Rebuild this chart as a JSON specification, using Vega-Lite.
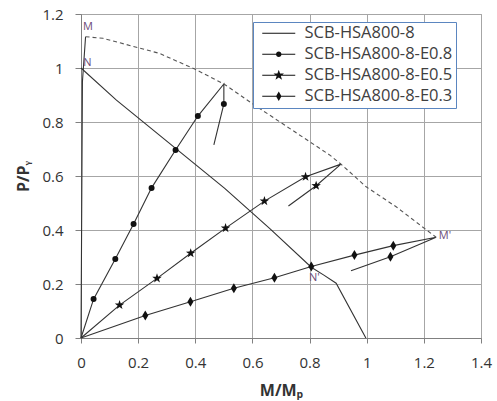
{
  "$schema": "https://vega.github.io/schema/vega-lite/v6.json",
  "width": 400,
  "height": 324,
  "autosize": "none",
  "padding": {"left": 81, "top": 14, "right": 16, "bottom": 63},
  "background": "white",
  "config": {"view": {"stroke": "#a0a0a0"}, "font": "Open Sans"},
  "datasets": {
    "curves": [
      {"series": "axial", "idx": 0, "x": 0, "y": 0, "marker": "none"},
      {"series": "axial", "idx": 1, "x": 0.005, "y": 0.95, "marker": "none"},
      {"series": "axial", "idx": 2, "x": 0.016, "y": 1.116, "marker": "none"},

      {"series": "envelope", "idx": 0, "x": 0.016, "y": 1.116, "marker": "none"},
      {"series": "envelope", "idx": 1, "x": 0.077, "y": 1.11, "marker": "none"},
      {"series": "envelope", "idx": 2, "x": 0.275, "y": 1.054, "marker": "none"},
      {"series": "envelope", "idx": 3, "x": 0.398, "y": 0.996, "marker": "none"},
      {"series": "envelope", "idx": 4, "x": 0.5, "y": 0.941, "marker": "none"},
      {"series": "envelope", "idx": 5, "x": 0.607, "y": 0.863, "marker": "none"},
      {"series": "envelope", "idx": 6, "x": 0.695, "y": 0.801, "marker": "none"},
      {"series": "envelope", "idx": 7, "x": 0.87, "y": 0.678, "marker": "none"},
      {"series": "envelope", "idx": 8, "x": 0.91, "y": 0.644, "marker": "none"},
      {"series": "envelope", "idx": 9, "x": 0.998, "y": 0.56, "marker": "none"},
      {"series": "envelope", "idx": 10, "x": 1.103, "y": 0.486, "marker": "none"},
      {"series": "envelope", "idx": 11, "x": 1.243, "y": 0.373, "marker": "none"},

      {"series": "SCB-HSA800-8", "idx": 0, "x": 0, "y": 1, "marker": "none"},
      {"series": "SCB-HSA800-8", "idx": 1, "x": 0.124, "y": 0.881, "marker": "none"},
      {"series": "SCB-HSA800-8", "idx": 2, "x": 0.503, "y": 0.554, "marker": "none"},
      {"series": "SCB-HSA800-8", "idx": 3, "x": 0.66, "y": 0.406, "marker": "none"},
      {"series": "SCB-HSA800-8", "idx": 4, "x": 0.806, "y": 0.262, "marker": "none"},
      {"series": "SCB-HSA800-8", "idx": 5, "x": 0.85, "y": 0.233, "marker": "none"},
      {"series": "SCB-HSA800-8", "idx": 6, "x": 0.893, "y": 0.203, "marker": "none"},
      {"series": "SCB-HSA800-8", "idx": 7, "x": 0.997, "y": 0, "marker": "none"},

      {"series": "SCB-HSA800-8-E0.8", "idx": 0, "x": 0, "y": 0, "marker": "none"},
      {"series": "SCB-HSA800-8-E0.8", "idx": 1, "x": 0.044, "y": 0.144, "marker": "circle"},
      {"series": "SCB-HSA800-8-E0.8", "idx": 2, "x": 0.12, "y": 0.293, "marker": "circle"},
      {"series": "SCB-HSA800-8-E0.8", "idx": 3, "x": 0.184, "y": 0.422, "marker": "circle"},
      {"series": "SCB-HSA800-8-E0.8", "idx": 4, "x": 0.247, "y": 0.556, "marker": "circle"},
      {"series": "SCB-HSA800-8-E0.8", "idx": 5, "x": 0.331, "y": 0.696, "marker": "circle"},
      {"series": "SCB-HSA800-8-E0.8", "idx": 6, "x": 0.409, "y": 0.822, "marker": "circle"},
      {"series": "SCB-HSA800-8-E0.8", "idx": 7, "x": 0.5, "y": 0.941, "marker": "none"},
      {"series": "SCB-HSA800-8-E0.8", "idx": 8, "x": 0.5, "y": 0.867, "marker": "circle"},
      {"series": "SCB-HSA800-8-E0.8", "idx": 9, "x": 0.465, "y": 0.715, "marker": "none"},

      {"series": "SCB-HSA800-8-E0.5", "idx": 0, "x": 0, "y": 0, "marker": "none"},
      {"series": "SCB-HSA800-8-E0.5", "idx": 1, "x": 0.135, "y": 0.122, "marker": "star"},
      {"series": "SCB-HSA800-8-E0.5", "idx": 2, "x": 0.266, "y": 0.221, "marker": "star"},
      {"series": "SCB-HSA800-8-E0.5", "idx": 3, "x": 0.384, "y": 0.314, "marker": "star"},
      {"series": "SCB-HSA800-8-E0.5", "idx": 4, "x": 0.506, "y": 0.407, "marker": "star"},
      {"series": "SCB-HSA800-8-E0.5", "idx": 5, "x": 0.642, "y": 0.507, "marker": "star"},
      {"series": "SCB-HSA800-8-E0.5", "idx": 6, "x": 0.786, "y": 0.597, "marker": "star"},
      {"series": "SCB-HSA800-8-E0.5", "idx": 7, "x": 0.91, "y": 0.644, "marker": "none"},
      {"series": "SCB-HSA800-8-E0.5", "idx": 8, "x": 0.823, "y": 0.564, "marker": "star"},
      {"series": "SCB-HSA800-8-E0.5", "idx": 9, "x": 0.726, "y": 0.489, "marker": "none"},

      {"series": "SCB-HSA800-8-E0.3", "idx": 0, "x": 0, "y": 0, "marker": "none"},
      {"series": "SCB-HSA800-8-E0.3", "idx": 1, "x": 0.225, "y": 0.083, "marker": "diamond"},
      {"series": "SCB-HSA800-8-E0.3", "idx": 2, "x": 0.383, "y": 0.134, "marker": "diamond"},
      {"series": "SCB-HSA800-8-E0.3", "idx": 3, "x": 0.535, "y": 0.184, "marker": "diamond"},
      {"series": "SCB-HSA800-8-E0.3", "idx": 4, "x": 0.677, "y": 0.223, "marker": "diamond"},
      {"series": "SCB-HSA800-8-E0.3", "idx": 5, "x": 0.806, "y": 0.265, "marker": "diamond"},
      {"series": "SCB-HSA800-8-E0.3", "idx": 6, "x": 0.957, "y": 0.307, "marker": "diamond"},
      {"series": "SCB-HSA800-8-E0.3", "idx": 7, "x": 1.093, "y": 0.342, "marker": "diamond"},
      {"series": "SCB-HSA800-8-E0.3", "idx": 8, "x": 1.243, "y": 0.373, "marker": "none"},
      {"series": "SCB-HSA800-8-E0.3", "idx": 9, "x": 1.083, "y": 0.301, "marker": "diamond"},
      {"series": "SCB-HSA800-8-E0.3", "idx": 10, "x": 0.945, "y": 0.249, "marker": "none"}
    ],
    "labels": [
      {"label": "M", "x": 0.024, "y": 1.153},
      {"label": "N", "x": 0.022, "y": 1.017},
      {"label": "N'", "x": 0.817, "y": 0.221},
      {"label": "M'", "x": 1.274, "y": 0.378}
    ],
    "legendrows": [
      {"series": "SCB-HSA800-8", "x": 0, "y": 0}
    ]
  },
  "layer": [
    {
      "data": {"name": "curves"},
      "transform": [{"filter": "datum.series !== 'envelope'"}],
      "mark": {"type": "line", "color": "#333333", "strokeWidth": 1.1},
      "encoding": {
        "x": {
          "field": "x", "type": "quantitative",
          "scale": {"domain": [0, 1.4], "nice": false, "zero": false},
          "axis": {
            "title": "M/Mₚ",
            "values": [0, 0.1, 0.2, 0.3, 0.4, 0.5, 0.6, 0.7, 0.8, 0.9, 1, 1.1, 1.2, 1.3, 1.4],
            "format": "~g",
            "labelExpr": "abs(round(datum.value*10)) % 2 === 0 ? datum.label : ''",
            "grid": true,
            "gridColor": {"condition": {"test": "abs(round(datum.value*10)) % 2 === 0", "value": "#a6a6a6"}, "value": "#d9d9d9"},
            "tickOpacity": {"condition": {"test": "abs(round(datum.value*10)) % 2 === 0", "value": 1}, "value": 0},
            "tickColor": "#808080",
            "tickSize": 5,
            "domainColor": "#808080",
            "labelFont": "Open Sans",
            "labelFontSize": 15,
            "labelColor": "#333333",
            "labelPadding": 12,
            "labelFlush": false,
            "titleFont": "Open Sans",
            "titleFontSize": 16,
            "titleFontWeight": "bold",
            "titleColor": "#333333",
            "titlePadding": 12
          }
        },
        "y": {
          "field": "y", "type": "quantitative",
          "scale": {"domain": [0, 1.2], "nice": false, "zero": false},
          "axis": {
            "title": "P/Pᵧ",
            "values": [0, 0.1, 0.2, 0.3, 0.4, 0.5, 0.6, 0.7, 0.8, 0.9, 1, 1.1, 1.2],
            "format": "~g",
            "labelExpr": "abs(round(datum.value*10)) % 2 === 0 ? datum.label : ''",
            "grid": true,
            "gridColor": {"condition": {"test": "abs(round(datum.value*10)) % 2 === 0", "value": "#a6a6a6"}, "value": "#d9d9d9"},
            "tickOpacity": {"condition": {"test": "abs(round(datum.value*10)) % 2 === 0", "value": 1}, "value": 0},
            "tickColor": "#808080",
            "tickSize": 6,
            "domainColor": "#808080",
            "labelFont": "Open Sans",
            "labelFontSize": 15,
            "labelColor": "#333333",
            "labelPadding": 12,
            "labelFlush": false,
            "titleFont": "Open Sans",
            "titleFontSize": 16,
            "titleFontWeight": "bold",
            "titleColor": "#333333",
            "titlePadding": 10
          }
        },
        "detail": {"field": "series", "type": "nominal"},
        "order": {"field": "idx", "type": "quantitative"}
      }
    },
    {
      "data": {"name": "curves"},
      "transform": [{"filter": "datum.series === 'envelope'"}],
      "mark": {"type": "line", "color": "#555555", "strokeWidth": 1.1, "strokeDash": [4, 3]},
      "encoding": {
        "x": {"field": "x", "type": "quantitative"},
        "y": {"field": "y", "type": "quantitative"},
        "order": {"field": "idx", "type": "quantitative"}
      }
    },
    {
      "data": {"name": "curves"},
      "transform": [{"filter": "datum.marker === 'circle'"}],
      "mark": {"type": "point", "shape": "circle", "filled": true, "color": "#111111", "opacity": 1, "size": 36},
      "encoding": {
        "x": {"field": "x", "type": "quantitative"},
        "y": {"field": "y", "type": "quantitative"}
      }
    },
    {
      "data": {"name": "curves"},
      "transform": [{"filter": "datum.marker === 'star'"}],
      "mark": {"type": "point", "shape": "M0,-1L0.235,-0.324L0.951,-0.309L0.38,0.124L0.588,0.809L0,0.4L-0.588,0.809L-0.38,0.124L-0.951,-0.309L-0.235,-0.324Z", "filled": true, "color": "#111111", "opacity": 1, "size": 100},
      "encoding": {
        "x": {"field": "x", "type": "quantitative"},
        "y": {"field": "y", "type": "quantitative"}
      }
    },
    {
      "data": {"name": "curves"},
      "transform": [{"filter": "datum.marker === 'diamond'"}],
      "mark": {"type": "point", "shape": "M0,-1L0.6,0L0,1L-0.6,0Z", "filled": true, "color": "#111111", "opacity": 1, "size": 100},
      "encoding": {
        "x": {"field": "x", "type": "quantitative"},
        "y": {"field": "y", "type": "quantitative"}
      }
    },
    {
      "data": {"name": "legendrows"},
      "mark": {"type": "point", "filled": true, "color": "#111111", "opacity": 0, "size": 100},
      "encoding": {
        "x": {"field": "x", "type": "quantitative"},
        "y": {"field": "y", "type": "quantitative"},
        "shape": {"field": "series", "type": "nominal",
          "scale": {"domain": ["SCB-HSA800-8", "SCB-HSA800-8-E0.8", "SCB-HSA800-8-E0.5", "SCB-HSA800-8-E0.3"],
            "range": [
              "M-0.4,-0.11L6.2,-0.11L6.2,0.11L-0.4,0.11Z",
              "M-0.4,-0.11L6.2,-0.11L6.2,0.11L-0.4,0.11ZM2.35,0A0.55,0.55 0 1,1 3.45,0A0.55,0.55 0 1,1 2.35,0Z",
              "M-0.4,-0.11L6.2,-0.11L6.2,0.11L-0.4,0.11ZM2.9,-1.1L3.165,-0.364L3.946,-0.34L3.328,0.139L3.547,0.89L2.9,0.45L2.253,0.89L2.472,0.139L1.854,-0.34L2.635,-0.364Z",
              "M-0.4,-0.11L6.2,-0.11L6.2,0.11L-0.4,0.11ZM2.9,-0.95L3.45,0L2.9,0.95L2.35,0Z"
            ]},
          "legend": {
            "title": null,
            "orient": "none",
            "legendX": 172,
            "legendY": 8,
            "padding": 3,
            "fillColor": "white",
            "strokeColor": "#5b86c0",
            "labelFont": "Open Sans",
            "labelFontSize": 16.5,
            "labelColor": "#404040",
            "labelOffset": 32,
            "labelLimit": 300,
            "labelExpr": "datum.label + '    '",
            "rowPadding": 4,
            "symbolSize": 100,
            "symbolStrokeWidth": 0,
            "symbolFillColor": "#111111",
            "symbolOpacity": 1
          }
        }
      }
    },
    {
      "data": {"name": "labels"},
      "mark": {"type": "text", "font": "Open Sans", "fontSize": 11, "color": "#6d4c78", "align": "center", "baseline": "middle"},
      "encoding": {
        "x": {"field": "x", "type": "quantitative"},
        "y": {"field": "y", "type": "quantitative"},
        "text": {"field": "label"}
      }
    }
  ]
}
